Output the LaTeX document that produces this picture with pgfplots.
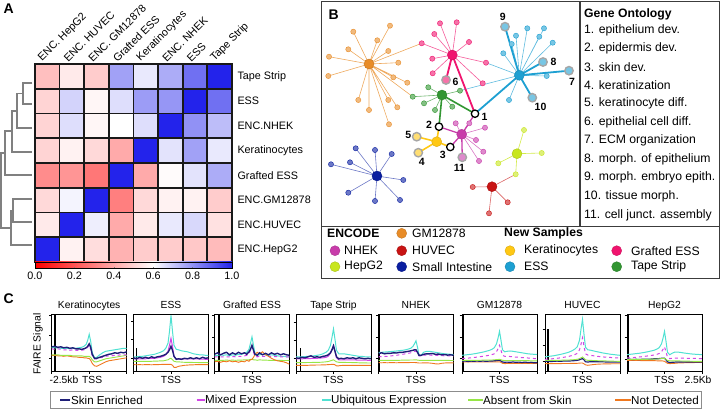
\documentclass[border=0pt]{standalone}
\usepackage{pgfplots}
\pgfplotsset{compat=1.18}
\usepackage{pgfplotstable}
\usepackage{fontspec}
\setmainfont{Liberation Sans}

% network colours
\definecolor{cGM}{RGB}{232,140,40}
\definecolor{cNHEK}{RGB}{200,60,170}
\definecolor{cHUVEC}{RGB}{200,20,20}
\definecolor{cHEP}{RGB}{200,230,30}
\definecolor{cSI}{RGB}{10,30,160}
\definecolor{cKER}{RGB}{255,200,20}
\definecolor{cESS}{RGB}{30,160,210}
\definecolor{cGRA}{RGB}{240,20,110}
\definecolor{cTAPE}{RGB}{50,150,50}
% FAIRE colours
\definecolor{seC}{RGB}{30,30,120}
\definecolor{meC}{RGB}{210,70,230}
\definecolor{ueC}{RGB}{80,225,210}
\definecolor{asC}{RGB}{150,230,70}
\definecolor{ndC}{RGB}{240,120,30}
\definecolor{dendro}{RGB}{128,128,128}
\definecolor{boxC}{RGB}{60,60,60}
\definecolor{cellB}{RGB}{25,25,25}

\newcommand{\fHeat}{\fontsize{10.8}{12}\selectfont}
\newcommand{\fB}{\fontsize{12.2}{14}\selectfont}
\newcommand{\fC}{\fontsize{10.3}{12}\selectfont}
\newcommand{\fLet}{\fontsize{14}{16}\selectfont\bfseries}

\pgfplotsset{
  edge/.style={#1, line width=0.6pt, line join=round},
  leaf/.style={only marks, mark=*, mark size=2.6pt, mark options={fill=#1!60!white, draw=#1, line width=0.4pt}},
  hub/.style={only marks, mark=*, mark size=5pt, mark options={fill=#1, draw=#1!85!black, line width=0.4pt}},
  gonode/.style={only marks, mark=*, mark size=4.2pt, mark options={fill=#1!60!white, draw=black!35, line width=1.4pt}},
  cpan/.style={anchor=north west, scale only axis, width=75pt, height=57pt,
    xmin=-2.5, xmax=2.5, ymin=0, ymax=57,
    axis line style={line width=0.9pt}, tick style={black, line width=0.6pt},
    major tick length=2.5pt, tick align=outside,
    xtick={-2.5,0,2.5}, xticklabels={,TSS,}, yticklabels={},
    xtick pos=bottom, ytick pos=left,
    xticklabel style={font=\fC, yshift=1pt},
    every axis title shift=0pt,
    title style={font=\fC, at={(0.5,1)}, anchor=base, inner sep=0pt, yshift=6pt}},
}

% FAIRE profiles: x (kb from TSS), skin enriched, mixed, ubiquitous, absent, not detected
\pgfplotstableread{
x se me ue as nd
-2.5 24.5 22.5 24 16.5 16
-2.3 25 22 23.5 16.5 16
-2.1 24 22.5 23.5 16.5 15.5
-1.9 24.5 22 23 16 15.5
-1.7 23.5 21.5 23 16 15
-1.5 24 21.5 23 16 15.5
-1.3 23 21 22.5 16 15
-1.1 23.5 21.5 23 15.5 14.5
-0.9 22.5 21 23 15.5 14.5
-0.7 22.5 21 23.5 15.5 14
-0.5 22 21 24 15.5 14
-0.35 22.5 21.5 25 15 13.5
-0.2 23.5 22.5 27 15 13.5
-0.1 25 24 31 15 13
0 27.5 26 37 15 13
0.1 24 22 30 14 11
0.2 17 16 19 11.5 8
0.35 13 12.5 13.5 9.5 5.5
0.5 13 12.5 14 9.5 5
0.7 14 13.5 16.5 10.5 6.5
0.9 15 14 18.5 11.5 8
1.1 16 15 20 12.5 9.5
1.3 17 15.5 20.5 13 10.5
1.5 17.5 15.5 21 13.5 11
1.7 18.5 16 21.5 14 11.5
1.9 18 16 22 14.5 12
2.1 19 16.5 22.5 15 12.5
2.3 18.5 16.5 23 15.5 13
2.5 19.5 16.5 23 16 13.5
}\tKer
\pgfplotstableread{
x se me ue as nd
-2.5 13.5 12.5 14.5 10 6.7
-2.3 12.5 12.5 14.5 10 6.5
-2.1 14 12.5 15 10 6.7
-1.9 13 12.5 15 10 6.5
-1.7 14 12.5 15.5 10 6.7
-1.5 13 13 16 10 6.7
-1.3 14.5 13 16.5 10 6.5
-1.1 13.5 13 17 10.2 6.7
-0.9 14.5 13.5 18 10.2 6.7
-0.7 15 14 19 10.5 6.8
-0.5 16 15 20.5 10.5 7
-0.35 17 16.5 23 11 7
-0.2 19 20 28 11.5 7
-0.1 21.5 26 40 12.5 7
0 25 33 56 13 7
0.1 21 25 40 11.5 6
0.2 15 15 26 10 4
0.35 12 12.5 22 9.5 4
0.5 12.5 12.5 21.5 9.5 5
0.7 12 12.5 20.5 9.2 5.5
0.9 13 12.5 20 9 6
1.1 12.5 12.5 19.5 9 6.2
1.3 13.5 12.5 18.5 9 6.5
1.5 12.5 12.5 17.5 8.8 6.5
1.7 13.5 12.5 17 8.8 6.7
1.9 12.5 12.3 16.5 8.7 6.7
2.1 14 12.3 16.5 8.7 6.7
2.3 13 12 16 8.7 6.7
2.5 13.5 12 16 8.7 6.7
}\tESS
\pgfplotstableread{
x se me ue as nd
-2.5 17 14.5 15.5 11 9.5
-2.3 18.5 14.5 16 11 10
-2.1 16.5 14.5 16.5 11 9
-1.9 18 14.5 16 11 10
-1.7 19 14.5 16.5 11.2 9.5
-1.5 16.5 14.5 15.5 11 10.5
-1.3 18.5 14.8 16.5 11.2 9.5
-1.1 17 14.5 16 11 10
-0.9 19 15 17 11.2 9
-0.7 17.5 15 17 11.2 10
-0.5 18.5 15.5 18 11.5 9.5
-0.35 17 16 19 11.5 11
-0.2 19.5 17.5 22 11.5 10
-0.1 22 21 28 12 11.5
0 26 24.5 34.5 12 12
0.1 21 19 26 11.5 14
0.2 17 15 18 11.5 17
0.35 16 14.5 16 11 19
0.5 18.5 15 16.5 11.5 17.5
0.7 16.5 15 17 11.2 19.5
0.9 18 15 16.5 11.2 16.5
1.1 16.5 15 16 11 15
1.3 18.5 15 16.5 11 13
1.5 17 14.8 16 11 11.5
1.7 18 14.8 15.5 11 10.5
1.9 16.5 14.5 15 11 10
2.1 17.5 14.5 15 10.8 9.5
2.3 16.5 14.5 14.5 10.8 8.5
2.5 16 14.3 14.5 10.8 7
}\tGra
\pgfplotstableread{
x se me ue as nd
-2.5 13.5 12.5 14.5 8.7 6
-2.3 13 12.5 14.5 8.7 6
-2.1 14 12.5 14.5 8.7 6
-1.9 13.5 12.7 14.7 8.7 6
-1.7 14.5 12.7 15 8.8 6
-1.5 15.5 12.8 15 8.8 6.2
-1.3 14 13 15.5 9 6.2
-1.1 14.5 13 16 9 6.3
-0.9 14 13.2 16.5 9 6.3
-0.7 15 13.5 17.5 9.2 6.5
-0.5 15.5 14 19 9.5 6.5
-0.35 16.5 15 21 9.8 6.7
-0.2 18.5 18 26 10.5 6.8
-0.1 21.5 22 34 11 7
0 25.5 26 42.5 11.5 7
0.1 20 20 32 10.5 6.5
0.2 14.5 13.5 21 9.5 5.5
0.35 12.5 11.5 17.5 9 5.5
0.5 13 11.5 17.5 9 5.8
0.7 12.5 11.5 17.5 9 6
0.9 13.5 11.5 17 8.8 6
1.1 13 11.5 16.5 8.8 6
1.3 13.5 11.5 16 8.7 6
1.5 12.5 11.3 15.5 8.7 6
1.7 13.5 11.3 15 8.5 6
1.9 13 11.2 15 8.5 6
2.1 12.5 11.2 14.5 8.5 6
2.3 13 11 14.5 8.3 6
2.5 12.5 11 14.3 8.3 6
}\tTape
\pgfplotstableread{
x se me ue as nd
-2.5 17.5 14.5 19 11 8.7
-2.3 18.5 14.7 19 11 8.5
-2.1 17.5 14.8 19.2 11 8.7
-1.9 18 15 19.5 11 8.5
-1.7 18 15.3 19.7 11 8.7
-1.5 18.5 15.7 20 11 8.7
-1.3 18.3 16 20.3 11 8.5
-1.1 19 16.5 20.7 11 8.7
-0.9 19 17 21 11.2 8.7
-0.7 19.5 17.5 21.5 11.2 8.7
-0.5 20 18 22.3 11.2 8.7
-0.35 20.5 18.5 23 11.3 8.8
-0.2 21 19.3 25 11.3 8.8
-0.1 21.5 20 27.5 11.5 8.8
0 21.5 20 30.5 11.5 8.7
0.1 19 18 24 11.2 8.5
0.2 16 15.5 16.5 11 8.3
0.35 16 15.5 16 11 8.3
0.5 17 16 19 11 8.5
0.7 17.5 16.3 20 11 8.5
0.9 17.5 16.2 20 11 8.3
1.1 17.8 16 19.5 11 8
1.3 17 16 19 11 7.5
1.5 17.2 15.8 18.5 11 7.3
1.7 16.5 15.7 18 11 8
1.9 16.8 15.5 17.5 11 8.3
2.1 16.2 15.5 17.3 11 8.5
2.3 16.5 15.3 17 10.8 8.5
2.5 16 15.3 16.7 10.8 8.5
}\tNHEK
\pgfplotstableread{
x se me ue as nd
-2.5 10 12.7 16 11 9.3
-2.3 10.3 13 16.3 11 9.3
-2.1 9.8 13.2 16.7 11 9.3
-1.9 10.2 13.5 17 11 9.3
-1.7 10 13.8 17.5 11 9.3
-1.5 10.3 14.2 18 11 9.3
-1.3 10 14.6 18.6 11 9.3
-1.1 10.3 15 19.2 11.2 9.3
-0.9 10 15.5 20 11.2 9.3
-0.7 10.2 16 20.8 11.2 9.3
-0.5 10.3 16.7 22 11.3 9.5
-0.35 10.5 17.5 23.5 11.5 9.5
-0.2 10.7 19.5 27.5 11.7 9.5
-0.1 11 22.5 33 11.8 9.5
0 11 26 40 12 9.5
0.1 10.3 21 31 11.5 9
0.2 9.3 16 21.5 11 8
0.35 9 15 19.5 10.8 7.7
0.5 9.2 15 20 10.8 7.8
0.7 9 14.8 20.3 10.8 8
0.9 9.3 14.5 20 10.8 8
1.1 9 14.2 19.5 10.8 8
1.3 9.2 14 19 10.7 8
1.5 8.8 13.7 18.5 10.7 8
1.7 9.2 13.5 18 10.7 8
1.9 8.8 13.3 17.5 10.7 8
2.1 9 13 17.2 10.5 7.8
2.3 8.5 12.8 17 10.5 7.8
2.5 8.7 12.7 16.8 10.5 7.8
}\tGM
\pgfplotstableread{
x se me ue as nd
-2.5 10 12 14.5 11 7.7
-2.3 10.2 12.2 14.8 11 7.7
-2.1 9.8 12.4 15.2 11 7.7
-1.9 10 12.7 15.6 11 7.7
-1.7 10.2 13 16.2 11 7.7
-1.5 10 13.4 16.8 11 7.7
-1.3 10.2 13.9 17.5 11.2 7.8
-1.1 10.3 14.4 18.3 11.2 7.8
-0.9 10.3 15 19.2 11.3 7.8
-0.7 10.5 15.8 20.5 11.5 8
-0.5 10.7 16.8 22.3 11.7 8
-0.35 11 18 24.5 12 8
-0.2 11.5 21.5 31 12.7 8.2
-0.1 12.2 27 42 13.5 8.3
0 12.7 33.5 52 14.3 8.3
0.1 11.5 25 37 13 7.5
0.2 9.5 17.5 24 11.5 6.5
0.35 9.3 16.3 21.5 11 6
0.5 9.5 16 21.2 11 6.3
0.7 9.5 15.6 20.5 10.8 6.7
0.9 9.5 15.2 19.8 10.7 7
1.1 9.5 14.8 19.2 10.5 7.2
1.3 9.5 14.5 18.5 10.5 7.3
1.5 9.4 14.2 18 10.4 7.5
1.7 9.3 14 17.5 10.3 7.5
1.9 9.3 13.8 17 10.2 7.5
2.1 9.3 13.6 16.7 10.1 7.6
2.3 9.2 13.4 16.3 10 7.6
2.5 9.2 13.3 16 10 7.6
}\tHUV
\pgfplotstableread{
x se me ue as nd
-2.5 12 13.3 16.7 12 11
-2.3 12 13.5 17 12 11
-2.1 11.8 13.7 17.3 12 10.8
-1.9 12 14 17.7 12 10.8
-1.7 11.8 14.3 18 12 10.8
-1.5 12 14.6 18.5 12 10.7
-1.3 12 15 19 12 10.7
-1.1 12.2 15.4 19.6 12 10.7
-0.9 12.2 15.8 20.3 12.2 10.7
-0.7 12.5 16.3 21 12.2 10.7
-0.5 12.5 17 22.3 12.3 10.5
-0.35 12.7 17.8 23.7 12.5 10.5
-0.2 13 19.5 27.5 12.7 10.5
-0.1 13 22 33 12.8 10.3
0 13 24.5 40 13 10
0.1 11.5 19.5 30 12 9
0.2 9.5 14 19 10.8 8
0.35 8.7 12.7 16.5 10.5 7.7
0.5 9 13 18 10.5 7.8
0.7 9.2 13.3 19.3 10.5 8
0.9 9.3 13.3 19.2 10.5 8.3
1.1 9.3 13.2 18.8 10.3 8.5
1.3 9.3 13.1 18.3 10.2 8.5
1.5 9.3 13 17.9 10.2 8.7
1.7 9.3 13 17.5 10.1 8.7
1.9 9.3 12.9 17.2 10 8.7
2.1 9.3 12.8 17 10 8.8
2.3 9.3 12.7 16.8 10 8.8
2.5 9.3 12.7 16.7 10 8.8
}\tHep

% correlation matrix: x = column, y = row (0 = ENC.HepG2 at the bottom)
\pgfplotstableread{
x y c
0 0 1.00
1 0 0.57
2 0 0.52
3 0 0.42
4 0 0.48
5 0 0.48
6 0 0.47
7 0 0.44
0 1 0.55
1 1 1.00
2 1 0.63
3 1 0.40
4 1 0.55
5 1 0.64
6 1 0.67
7 1 0.53
0 2 0.51
1 2 0.62
2 2 1.00
3 2 0.30
4 2 0.51
5 2 0.57
6 2 0.57
7 2 0.48
0 3 0.33
1 3 0.35
2 3 0.28
3 3 1.00
4 3 0.40
5 3 0.59
6 3 0.65
7 3 0.75
0 4 0.50
1 4 0.57
2 4 0.51
3 4 0.40
4 4 1.00
5 4 0.65
6 4 0.77
7 4 0.64
0 5 0.50
1 5 0.66
2 5 0.58
3 5 0.60
4 5 0.66
5 5 1.00
6 5 0.80
7 5 0.72
0 6 0.50
1 6 0.68
2 6 0.58
3 6 0.66
4 6 0.78
5 6 0.79
6 6 1.00
7 6 0.86
0 7 0.45
1 7 0.55
2 7 0.48
3 7 0.77
4 7 0.64
5 7 0.75
6 7 0.86
7 7 1.00
}\corr

\begin{document}
\begin{tikzpicture}
%% canvas in pixel coordinates (y downwards): dendrogram, network, texts, legends
\begin{axis}[at={(0pt,0pt)}, anchor=south west, scale only axis, width=721pt, height=410pt,
  xmin=0, xmax=721, ymin=0, ymax=410, y dir=reverse, hide axis, clip=false]
% panel letters
\node[anchor=north west, font=\fLet] at (0,0) {A};
\node[anchor=north west, font=\fLet] at (325,6) {B};
\node[anchor=north west, font=\fLet] at (0,290) {C};
% dendrogram
\addplot[dendro, line width=1.7pt] coordinates {(32.3,82.7)(22.7,82.7)(22.7,104.3)(32.3,104.3)};
\addplot[dendro, line width=1.7pt] coordinates {(22.7,93.5)(16.7,93.5)(16.7,128.3)(32.3,128.3)};
\addplot[dendro, line width=1.7pt] coordinates {(16.7,111)(12,111)(12,151.7)(32.3,151.7)};
\addplot[dendro, line width=1.7pt] coordinates {(12,131.3)(5,131.3)(5,175)(32.3,175)};
\addplot[dendro, line width=1.7pt] coordinates {(32.3,199.3)(13.3,199.3)(13.3,221.7)(32.3,221.7)};
\addplot[dendro, line width=1.7pt] coordinates {(13.3,210.5)(10.7,210.5)(10.7,245)(32.3,245)};
\addplot[dendro, line width=1.7pt] coordinates {(5,153.2)(1,153.2)(1,227.8)(10.7,227.8)};
% network frame
\draw[boxC, line width=1.3pt] (321.5,1.5) rectangle (719.5,278.5);
\draw[boxC, line width=1.3pt] (580,1.5) -- (580,226.7);
\draw[boxC, line width=1.3pt] (321.5,226.7) -- (719.5,226.7);
% thin edges
\addplot[edge=cGM!75!white] coordinates {(369,64)(353.3,31.7)(369,64)(390,25.7)(369,64)(377.3,40.3)(369,64)(348.3,49.3)(369,64)(329,56.7)(369,64)(388.3,51)(369,64)(398.3,62.7)(369,64)(328.3,76)(369,64)(407.3,82.7)(369,64)(393.3,77.3)(369,64)(358.3,100)(369,64)(369,110)(369,64)(388.3,100)(369,64)(397.3,107.3)(369,64)(389,124.3)(369,64)(421.7,43.3)(369,64)(412.7,96.7)};
\addplot[edge=cGRA!70!white] coordinates {(452.3,55)(440,23.3)(452.3,55)(456.7,22.3)(452.3,55)(434.3,34)(452.3,55)(421.7,43.3)(452.3,55)(469,42)(452.3,55)(432.3,58.7)(452.3,55)(486,62.7)(452.3,55)(432.7,73.3)(452.3,55)(482.7,83.3)};
\addplot[edge=cESS!70!white] coordinates {(519.3,75.3)(516,35.7)(519.3,75.3)(527.3,28.3)(519.3,75.3)(503.3,53.3)(519.3,75.3)(511.7,44)(519.3,75.3)(539.3,36.7)(519.3,75.3)(544,28.3)(519.3,75.3)(552.7,42.7)(519.3,75.3)(546.7,76)(519.3,75.3)(509,100)(519.3,75.3)(460,90.7)(519.3,75.3)(486,62.7)};
\addplot[edge=cTAPE!70!white] coordinates {(442,95)(412.7,96.7)(442,95)(428.3,87.3)(442,95)(460,90.7)(442,95)(435,110)(442,95)(452.3,106.7)(442,95)(424,103.3)};
\addplot[edge=cNHEK!70!white] coordinates {(461.7,134.3)(455.7,123.3)(461.7,134.3)(469.3,123.3)(461.7,134.3)(485,127.7)(461.7,134.3)(476,140)(461.7,134.3)(483.3,151.7)(461.7,134.3)(479,161)};
\addplot[edge=cSI!60!white] coordinates {(377,176)(355.7,148.3)(377,176)(375,150)(377,176)(391.7,154)(377,176)(350,162.3)(377,176)(331,164.3)(377,176)(403.3,180)(377,176)(348.3,192.7)(377,176)(375,201)(377,176)(400,200)};
\addplot[edge=cHEP!80!white] coordinates {(517,153.7)(524,130)(517,153.7)(541.7,153)(517,153.7)(498.3,163.3)(517,153.7)(515.7,174.3)};
\addplot[edge=cHUVEC!65!white] coordinates {(492,186.7)(472.7,187)(492,186.7)(507.7,202.3)(492,186.7)(489,213.3)(492,186.7)(515.7,174.3)};
% thick edges to gene ontology terms
\addplot[cESS, line width=1.8pt, line join=round] coordinates {(519.3,75.3)(505,26.7)(519.3,75.3)(543,62)(519.3,75.3)(569,70.7)(519.3,75.3)(532.3,97.7)(519.3,75.3)(475,113.7)};
\addplot[cGRA, line width=1.8pt, line join=round] coordinates {(452.3,55)(446,80)(452.3,55)(475,113.7)};
\addplot[cTAPE, line width=1.6pt, line join=round] coordinates {(442,95)(475,113.7)(442,95)(439,126.7)};
\addplot[cNHEK, line width=1.3pt, line join=round] coordinates {(461.7,134.3)(475,113.7)(461.7,134.3)(439,126.7)(461.7,134.3)(450.3,147)(461.7,134.3)(462.3,157.3)};
\addplot[cKER, line width=1.6pt, line join=round] coordinates {(436.7,141.7)(439,126.7)(436.7,141.7)(450.3,147)(436.7,141.7)(418.3,152.7)(436.7,141.7)(416.7,136.7)};
% leaves
\addplot[leaf=cGM] coordinates {(353.3,31.7)(390,25.7)(377.3,40.3)(348.3,49.3)(329,56.7)(388.3,51)(398.3,62.7)(328.3,76)(407.3,82.7)(393.3,77.3)(358.3,100)(369,110)(388.3,100)(397.3,107.3)(389,124.3)};
\addplot[leaf=cGRA] coordinates {(440,23.3)(456.7,22.3)(434.3,34)(421.7,43.3)(469,42)(432.3,58.7)(486,62.7)(432.7,73.3)(482.7,83.3)};
\addplot[leaf=cESS] coordinates {(516,35.7)(527.3,28.3)(503.3,53.3)(511.7,44)(539.3,36.7)(544,28.3)(552.7,42.7)(546.7,76)(509,100)};
\addplot[leaf=cTAPE] coordinates {(412.7,96.7)(428.3,87.3)(460,90.7)(435,110)(452.3,106.7)(424,103.3)};
\addplot[leaf=cNHEK] coordinates {(455.7,123.3)(469.3,123.3)(485,127.7)(476,140)(483.3,151.7)(479,161)};
\addplot[leaf=cSI] coordinates {(355.7,148.3)(375,150)(391.7,154)(350,162.3)(331,164.3)(403.3,180)(348.3,192.7)(375,201)(400,200)};
\addplot[leaf=cHEP] coordinates {(524,130)(541.7,153)(498.3,163.3)(515.7,174.3)};
\addplot[leaf=cHUVEC] coordinates {(472.7,187)(507.7,202.3)(489,213.3)};
% hubs
\addplot[hub=cGM] coordinates {(369,64)};
\addplot[hub=cGRA] coordinates {(452.3,55)};
\addplot[hub=cESS] coordinates {(519.3,75.3)};
\addplot[hub=cTAPE] coordinates {(442,95)};
\addplot[hub=cNHEK] coordinates {(461.7,134.3)};
\addplot[hub=cKER] coordinates {(436.7,141.7)};
\addplot[hub=cSI] coordinates {(377,176)};
\addplot[hub=cHEP] coordinates {(517,153.7)};
\addplot[hub=cHUVEC] coordinates {(492,186.7)};
% gene ontology nodes
\addplot[gonode=cKER] coordinates {(418.3,152.7)(416.7,136.7)};
\addplot[gonode=cGRA] coordinates {(446,80)};
\addplot[gonode=cESS] coordinates {(569,70.7)(543,62)(505,26.7)(532.3,97.7)};
\addplot[gonode=cNHEK] coordinates {(462.3,157.3)};
\addplot[only marks, mark=*, mark size=3.7pt, mark options={fill=white, draw=black, line width=1.3pt}] coordinates {(475,113.7)(439,126.7)(450.3,147)};
% node numbers
\begin{scope}[every node/.style={font=\fontsize{10.5}{12}\selectfont\bfseries}]
\node at (484.5,117) {1};
\node at (429,125) {2};
\node at (442.7,155.3) {3};
\node at (421.7,162.3) {4};
\node at (408.3,134.7) {5};
\node at (455.5,82) {6};
\node at (572,81.7) {7};
\node at (553.5,61.7) {8};
\node at (502.7,16.7) {9};
\node at (540.5,106.7) {10};
\node at (459.3,167.7) {11};
\end{scope}
% gene ontology list
\begin{scope}[every node/.style={anchor=west, font=\fB, inner sep=0pt}]
\node[font=\fB\bfseries] at (584,14) {Gene Ontology};
\node at (584,30) {1. epithelium dev.};
\node at (584,48.4) {2. epidermis dev.};
\node at (584,66.8) {3. skin dev.};
\node at (584,85.2) {4. keratinization};
\node at (584,103.6) {5. keratinocyte diff.};
\node at (584,122) {6. epithelial cell diff.};
\node at (584,140.6) {7. ECM organization};
\node at (584,159.2) {8. morph. of epithelium};
\node at (584,177.8) {9. morph. embryo epith.};
\node at (584,196.6) {10. tissue morph.};
\node at (584,215.4) {11. cell junct. assembly};
% network legend
\node[font=\fB\bfseries] at (327,233.3) {ENCODE};
\node[font=\fB\bfseries] at (504,233.3) {New Samples};
\node at (412,233.3) {GM12878};
\node at (344,250.7) {NHEK};
\node at (412,250.7) {HUVEC};
\node at (344,266.7) {HepG2};
\node at (412,266.7) {Small Intestine};
\node at (524,250.7) {Keratinocytes};
\node at (524,266.7) {ESS};
\node at (631,250.7) {Grafted ESS};
\node at (631,266.7) {Tape Strip};
\end{scope}
\addplot[hub=cGM] coordinates {(401.7,233.3)};
\addplot[hub=cNHEK] coordinates {(335,250.7)};
\addplot[hub=cHUVEC] coordinates {(401.7,250.7)};
\addplot[hub=cHEP] coordinates {(335,266.7)};
\addplot[hub=cSI] coordinates {(401.7,266.7)};
\addplot[hub=cKER] coordinates {(510,250.7)};
\addplot[hub=cESS] coordinates {(510,266.7)};
\addplot[hub=cGRA] coordinates {(616.7,250.7)};
\addplot[hub=cTAPE] coordinates {(616.7,266.7)};
% panel C labels and legend
\node[rotate=90, font=\fC] at (38,344) {FAIRE Signal};
\node[font=\fC] at (64,380) {-2.5kb};
\node[font=\fC] at (698,380) {2.5Kb};
\draw[black!45, line width=0.8pt] (50,391.7) rectangle (701.7,408.5);
\addplot[seC, line width=2.4pt] coordinates {(60,400.2)(70,400.2)};
\addplot[meC, line width=2.4pt] coordinates {(196.7,400.2)(204.5,400.2)};
\addplot[ueC, line width=2.4pt] coordinates {(322,400.2)(330.5,400.2)};
\addplot[asC, line width=2.4pt] coordinates {(468,400.2)(482.5,400.2)};
\addplot[ndC, line width=2.4pt] coordinates {(615,400.2)(630.5,400.2)};
\begin{scope}[every node/.style={anchor=west, font=\fontsize{11.6}{13}\selectfont, inner sep=0pt}]
\node at (71,400.2) {Skin Enriched};
\node at (205,400.2) {Mixed Expression};
\node at (331,400.2) {Ubiquitous Expression};
\node at (483,400.2) {Absent from Skin};
\node at (631,400.2) {Not Detected};
\end{scope}
\end{axis}

%% panel A heatmap: every cell a square mark in its mapped colour, with a dark border
\begin{axis}[at={(35pt,346pt)}, anchor=north west, scale only axis, width=197pt, height=198pt,
  xmin=-0.5, xmax=7.5, ymin=-0.5, ymax=7.5, clip=false,
  colormap={rwb}{rgb255(0pt)=(255,0,0); rgb255(6pt)=(255,255,255); rgb255(10pt)=(35,35,235)},
  point meta min=0, point meta max=1,
  xtick={0,...,7}, ytick={0,...,7},
  xticklabels={ENC. HepG2, ENC. HUVEC, ENC. GM12878, Grafted ESS, Keratinocytes, ENC. NHEK, ESS, Tape Strip},
  yticklabels={ENC.HepG2, ENC.HUVEC, ENC.GM12878, Grafted ESS, Keratinocytes, ENC.NHEK, ESS, Tape Strip},
  xticklabel pos=upper, yticklabel pos=upper,
  xticklabel style={rotate=45, anchor=south west, font=\fHeat, inner sep=0pt, xshift=-2pt, yshift=3pt},
  yticklabel style={anchor=west, font=\fHeat, xshift=2pt},
  major tick length=0pt,
  axis on top, axis line style={cellB, line width=1.8pt},
  colorbar horizontal,
  colorbar style={at={(0,0)}, anchor=north west, yshift=-4.5pt,
    scale only axis, width=197pt, height=6.5pt,
    xtick={0,0.2,0.4,0.6,0.8,1},
    xticklabels={0.0,0.2,0.4,0.6,0.8,1.0},
    xticklabel style={font=\fHeat},
    xticklabel pos=lower, major tick length=1.5pt,
    axis line style={line width=0.8pt}}]
\addplot[scatter, only marks, mark=square*, mark size=12.35pt, point meta=explicit,
  scatter/use mapped color={draw=cellB, fill=mapped color},
  mark options={line width=1.8pt}] table[x=x, y=y, meta=c] {\corr};
\end{axis}

%% panel C profiles
\begin{axis}[cpan, at={(51.7pt,95.7pt)}, title={Keratinocytes}, ytick={13,36,56},
  xticklabel style={xshift=3pt}]
\addplot[black, line width=1.1pt] coordinates {(-2.28,0)(-2.28,57)};
\addplot[ndC, line width=0.9pt] table[x=x,y=nd]{\tKer};
\addplot[asC, line width=0.9pt] table[x=x,y=as]{\tKer};
\addplot[ueC, line width=1pt] table[x=x,y=ue]{\tKer};
\addplot[meC, line width=1pt, dashed] table[x=x,y=me]{\tKer};
\addplot[seC, line width=1.4pt] table[x=x,y=se]{\tKer};
\end{axis}
\begin{axis}[cpan, at={(133.5pt,95.7pt)}, title={ESS}, ytick={12.7,31.7,50}]
\addplot[black, line width=1.1pt] coordinates {(-2.28,0)(-2.28,23.3)};
\addplot[ndC, line width=0.9pt] table[x=x,y=nd]{\tESS};
\addplot[asC, line width=0.9pt] table[x=x,y=as]{\tESS};
\addplot[ueC, line width=1pt] table[x=x,y=ue]{\tESS};
\addplot[meC, line width=1pt] table[x=x,y=me]{\tESS};
\addplot[seC, line width=1.4pt] table[x=x,y=se]{\tESS};
\end{axis}
\begin{axis}[cpan, at={(214.5pt,95.7pt)}, title={Grafted ESS}, ytick={12.7,33.7,56}]
\addplot[black, line width=1.1pt] coordinates {(-2.2,0)(-2.2,57)};
\addplot[asC, line width=0.9pt] table[x=x,y=as]{\tGra};
\addplot[ueC, line width=1pt] table[x=x,y=ue]{\tGra};
\addplot[meC, line width=1pt, dashed] table[x=x,y=me]{\tGra};
\addplot[ndC, line width=0.9pt] table[x=x,y=nd]{\tGra};
\addplot[seC, line width=1.4pt] table[x=x,y=se]{\tGra};
\end{axis}
\begin{axis}[cpan, at={(296pt,95.7pt)}, title={Tape Strip}, ytick={13.3,31,49}]
\addplot[black, line width=1.1pt] coordinates {(-2.2,0)(-2.2,23.3)};
\addplot[ndC, line width=0.9pt] table[x=x,y=nd]{\tTape};
\addplot[asC, line width=0.9pt] table[x=x,y=as]{\tTape};
\addplot[ueC, line width=1pt] table[x=x,y=ue]{\tTape};
\addplot[meC, line width=1pt] table[x=x,y=me]{\tTape};
\addplot[seC, line width=1.4pt] table[x=x,y=se]{\tTape};
\end{axis}
\begin{axis}[cpan, at={(378.5pt,95.7pt)}, title={NHEK}, ytick={12.7,33.7,56}]
\addplot[black, line width=1.1pt] coordinates {(-2.42,0)(-2.42,57)};
\addplot[ndC, line width=0.9pt] table[x=x,y=nd]{\tNHEK};
\addplot[asC, line width=0.9pt] table[x=x,y=as]{\tNHEK};
\addplot[ueC, line width=1pt] table[x=x,y=ue]{\tNHEK};
\addplot[meC, line width=1pt, dashed] table[x=x,y=me]{\tNHEK};
\addplot[seC, line width=1.4pt] table[x=x,y=se]{\tNHEK};
\end{axis}
\begin{axis}[cpan, at={(462pt,95.7pt)}, title={GM12878}, ytick={12.7,33.7,56}]
\addplot[black, line width=1.1pt] coordinates {(-2.42,0)(-2.42,57)};
\addplot[ndC, line width=0.9pt] table[x=x,y=nd]{\tGM};
\addplot[seC, line width=1.2pt] table[x=x,y=se]{\tGM};
\addplot[asC, line width=0.9pt] table[x=x,y=as]{\tGM};
\addplot[ueC, line width=1pt] table[x=x,y=ue]{\tGM};
\addplot[meC, line width=1pt, dashed] table[x=x,y=me]{\tGM};
\end{axis}
\begin{axis}[cpan, at={(545pt,95.7pt)}, title={HUVEC}, ytick={10,26,42}]
\addplot[black, line width=1.1pt] coordinates {(-2.3,0)(-2.3,42.7)};
\addplot[ndC, line width=0.9pt] table[x=x,y=nd]{\tHUV};
\addplot[seC, line width=1.2pt] table[x=x,y=se]{\tHUV};
\addplot[asC, line width=0.9pt] table[x=x,y=as]{\tHUV};
\addplot[ueC, line width=1pt] table[x=x,y=ue]{\tHUV};
\addplot[meC, line width=1pt, dashed] table[x=x,y=me]{\tHUV};
\end{axis}
\begin{axis}[cpan, at={(627pt,95.7pt)}, title={HepG2}, ytick={12,33.7,56}]
\addplot[black, line width=1.1pt] coordinates {(-2.42,0)(-2.42,57)};
\addplot[ndC, line width=0.9pt] table[x=x,y=nd]{\tHep};
\addplot[seC, line width=1.2pt] table[x=x,y=se]{\tHep};
\addplot[asC, line width=0.9pt] table[x=x,y=as]{\tHep};
\addplot[ueC, line width=1pt] table[x=x,y=ue]{\tHep};
\addplot[meC, line width=1pt, dashed] table[x=x,y=me]{\tHep};
\end{axis}

\pgfresetboundingbox
\path[use as bounding box] (0,0) rectangle (721pt,410pt);
\end{tikzpicture}
\end{document}
